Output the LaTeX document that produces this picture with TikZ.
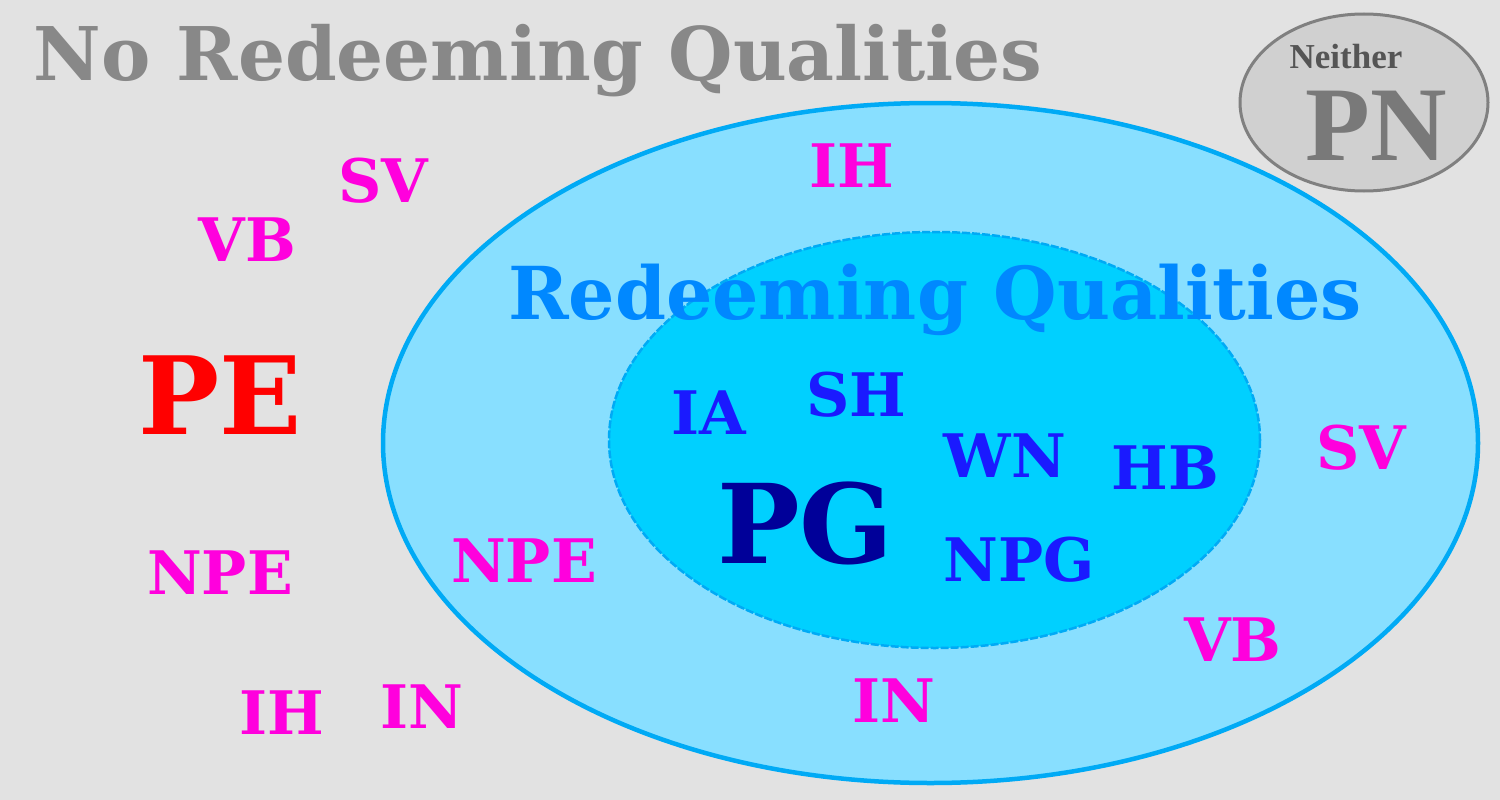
\documentclass[tikz,border=0pt]{standalone}
\usepackage{fontspec}
\setmainfont{DejaVu Serif}
\newfontfamily\libser{Liberation Serif}
\definecolor{bg}{HTML}{E2E2E2}
\definecolor{outerfill}{HTML}{88DFFF}
\definecolor{ringblue}{HTML}{00AAF5}
\definecolor{innerfill}{HTML}{00D0FF}
\definecolor{titlegray}{HTML}{888888}
\definecolor{titleblue}{HTML}{0088FF}
\definecolor{mag}{HTML}{FF00DD}
\definecolor{lblue}{HTML}{1A1AFF}
\definecolor{dblue}{HTML}{000099}
\definecolor{pegred}{HTML}{FF0000}
\definecolor{neitherfill}{HTML}{D0D0D0}
\definecolor{neitherline}{HTML}{808080}
\definecolor{neithertxt}{HTML}{555555}
\definecolor{pntxt}{HTML}{797979}
\tikzset{
  lbl/.style={inner sep=0pt, outer sep=0pt, anchor=base, font=\bfseries\fontsize{60}{70}\selectfont},
  maglbl/.style={lbl, text=mag},
  bluelbl/.style={lbl, text=lblue},
  bigtitle/.style={inner sep=0pt, anchor=base, font=\bfseries\fontsize{74}{84}\selectfont},
  huge/.style={inner sep=0pt, anchor=base, font=\bfseries\fontsize{110}{120}\selectfont}
}
\begin{document}
\begin{tikzpicture}[x=1pt,y=-1pt]
\fill[bg] (0,0) rectangle (1500,800);
\useasboundingbox (0,0) rectangle (1500,800);
% outer ellipse
\draw[ringblue, line width=4.5pt, fill=outerfill] (930.5,443) ellipse [x radius=547.5, y radius=340];
% inner ellipse
\draw[ringblue, line width=2.5pt, fill=innerfill, dash pattern=on 8pt off 2pt] (934.5,440) ellipse [x radius=325.5, y radius=208];
% neither ellipse
\draw[neitherline, line width=3pt, fill=neitherfill] (1364,102.5) ellipse [x radius=124, y radius=88.5];

\node[bigtitle, text=titlegray] (noq) at (538,81) {No Redeeming Qualities};
\node[bigtitle, text=titleblue, font=\bfseries\fontsize{73}{84}\selectfont] (rq) at (935,319) {Redeeming Qualities};

\node[inner sep=0pt, anchor=base, font=\libser\bfseries\fontsize{35}{40}\selectfont, text=neithertxt] (neither) at (1346,69) {Neither};
\node[inner sep=0pt, anchor=base, font=\libser\bfseries\fontsize{106}{110}\selectfont, text=pntxt] (pn) at (1376,160) {PN};

\node[huge, text=pegred, font=\bfseries\fontsize{108}{120}\selectfont] (pe) at (220.5,434) {PE};
\node[huge, text=dblue] (pg) at (805.5,563.5) {PG};

% magenta labels
\node[maglbl] (sv1) at (383,202.5) {SV};
\node[maglbl] (vb1) at (247.5,261.5) {VB};
\node[maglbl] (npe1) at (220,594) {NPE};
\node[maglbl] (ih1) at (282,734) {IH};
\node[maglbl] (in1) at (421.5,728) {IN};
\node[maglbl] (npe2) at (524,582) {NPE};
\node[maglbl] (ih2) at (852,187.5) {IH};
\node[maglbl] (in2) at (893.5,722) {IN};
\node[maglbl] (sv2) at (1361.5,469) {SV};
\node[maglbl] (vb2) at (1233,661.5) {VB};

% blue labels
\node[bluelbl] (ia) at (709,434) {IA};
\node[bluelbl] (sh) at (856.5,416) {SH};
\node[bluelbl] (wn) at (1005,477.5) {WN};
\node[bluelbl] (hb) at (1165.5,489.5) {HB};
\node[bluelbl] (npg) at (1019,581.5) {NPG};
\end{tikzpicture}
\end{document}
